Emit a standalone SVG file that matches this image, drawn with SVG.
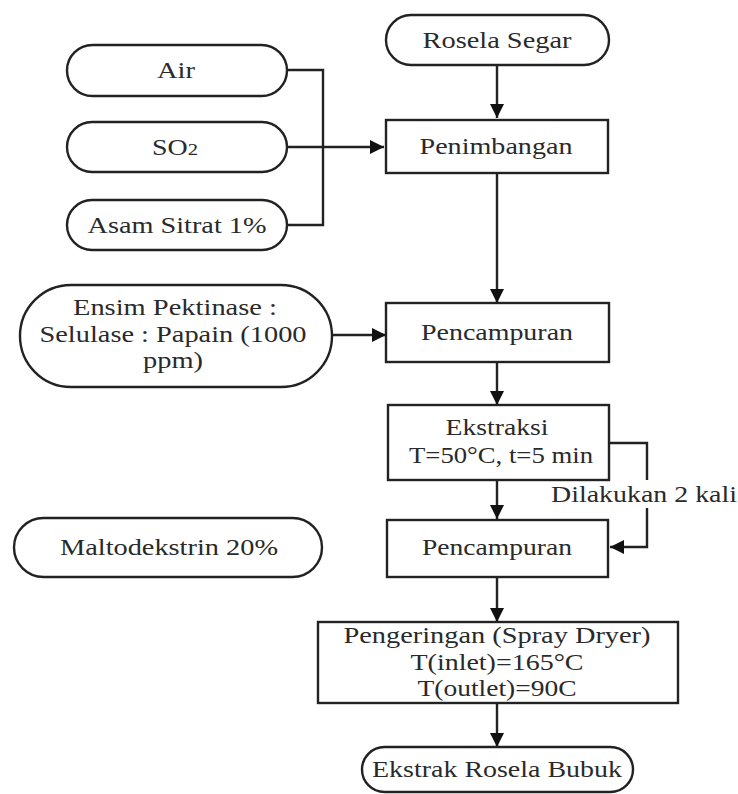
<svg xmlns="http://www.w3.org/2000/svg" width="738" height="794" viewBox="0 0 738 794">
<style>
.n{fill:#fff;stroke:#222;stroke-width:2.4}
.t{font-family:"Liberation Serif","Times New Roman",Times,serif;font-size:23px;fill:#2a2a2a;text-anchor:middle}
.c{fill:none;stroke:#222;stroke-width:2.4}
</style>
<defs>
<marker id="b" viewBox="0 0 10 10" refX="10" refY="5" markerWidth="14" markerHeight="14" markerUnits="userSpaceOnUse" orient="auto"><path d="M0,0L10,5L0,10z" fill="#111"/></marker>
</defs>
<g id="connectors">
<path class="c" d="M287,70H323V225H287"/>
<path class="c" d="M287,147H384" marker-end="url(#b)"/>
<path class="c" d="M497,65V118" marker-end="url(#b)"/>
<path class="c" d="M497,173V303" marker-end="url(#b)"/>
<path class="c" d="M332,335H386" marker-end="url(#b)"/>
<path class="c" d="M497,362V405" marker-end="url(#b)"/>
<path class="c" d="M497,480V519" marker-end="url(#b)"/>
<path class="c" d="M609,443H647V480"/>
<path class="c" d="M647,508V547H610" marker-end="url(#b)"/>
<path class="c" d="M497,577V622" marker-end="url(#b)"/>
<path class="c" d="M497,703V747" marker-end="url(#b)"/>
</g>
<g id="rosela-segar"><rect class="n" x="386" y="15" width="223" height="50" rx="25"/><text class="t" x="497" y="48" textLength="149" lengthAdjust="spacingAndGlyphs">Rosela Segar</text></g>
<g id="air"><rect class="n" x="67" y="45" width="220" height="51" rx="25.5"/><text class="t" x="176" y="78" textLength="38" lengthAdjust="spacingAndGlyphs">Air</text></g>
<g id="so2"><rect class="n" x="67" y="122" width="220" height="50" rx="25"/><text class="t" x="175" y="155" textLength="46" lengthAdjust="spacingAndGlyphs">SO<tspan font-size="17">2</tspan></text></g>
<g id="asam-sitrat"><rect class="n" x="67" y="200" width="220" height="50" rx="25"/><text class="t" x="177" y="233" textLength="179" lengthAdjust="spacingAndGlyphs">Asam Sitrat 1%</text></g>
<g id="penimbangan"><rect class="n" x="386" y="120" width="222" height="53"/><text class="t" x="496" y="154" textLength="153" lengthAdjust="spacingAndGlyphs">Penimbangan</text></g>
<g id="ensim"><rect class="n" x="20" y="285" width="312" height="102" rx="51"/>
<text class="t" x="175" y="315" textLength="204" lengthAdjust="spacingAndGlyphs">Ensim Pektinase :</text>
<text class="t" x="173" y="342" textLength="267" lengthAdjust="spacingAndGlyphs">Selulase : Papain (1000</text>
<text class="t" x="173" y="368" textLength="60" lengthAdjust="spacingAndGlyphs">ppm)</text></g>
<g id="pencampuran-1"><rect class="n" x="386" y="303" width="223" height="59"/><text class="t" x="497" y="340" textLength="152" lengthAdjust="spacingAndGlyphs">Pencampuran</text></g>
<g id="ekstraksi"><rect class="n" x="388" y="405" width="221" height="75"/>
<text class="t" x="497" y="435" textLength="103" lengthAdjust="spacingAndGlyphs">Ekstraksi</text>
<text class="t" x="501" y="463" textLength="184" lengthAdjust="spacingAndGlyphs">T=50°C, t=5 min</text></g>
<g id="loop-label"><text class="t" x="644" y="502" textLength="186" lengthAdjust="spacingAndGlyphs">Dilakukan 2 kali</text></g>
<g id="maltodekstrin"><rect class="n" x="14" y="518" width="308" height="59" rx="29.5"/><text class="t" x="169" y="555" textLength="218" lengthAdjust="spacingAndGlyphs">Maltodekstrin 20%</text></g>
<g id="pencampuran-2"><rect class="n" x="387" y="520" width="221" height="57"/><text class="t" x="497" y="555" textLength="150" lengthAdjust="spacingAndGlyphs">Pencampuran</text></g>
<g id="pengeringan"><rect class="n" x="318" y="622" width="360" height="81"/>
<text class="t" x="497" y="643" textLength="307" lengthAdjust="spacingAndGlyphs">Pengeringan (Spray Dryer)</text>
<text class="t" x="497" y="670" textLength="173" lengthAdjust="spacingAndGlyphs">T(inlet)=165°C</text>
<text class="t" x="497" y="696" textLength="159" lengthAdjust="spacingAndGlyphs">T(outlet)=90C</text></g>
<g id="ekstrak-bubuk"><rect class="n" x="362" y="747" width="271" height="45" rx="22.5"/><text class="t" x="497" y="777" textLength="250" lengthAdjust="spacingAndGlyphs">Ekstrak Rosela Bubuk</text></g>
</svg>
